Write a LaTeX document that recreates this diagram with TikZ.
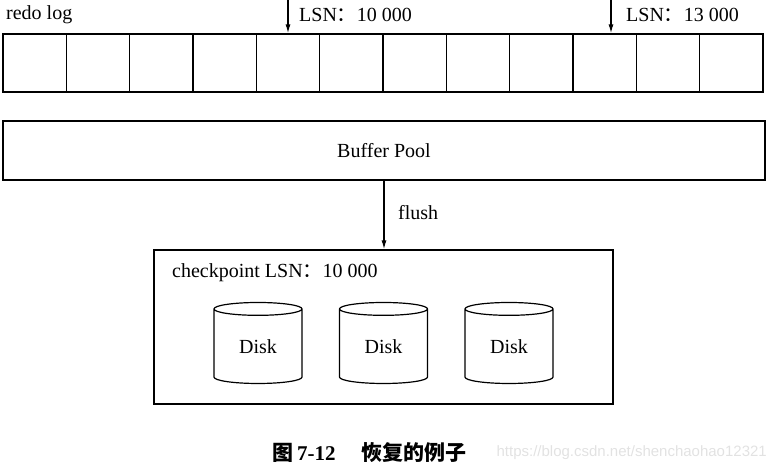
\documentclass[tikz,border=0pt]{standalone}
\usepackage{fontspec}
\setmainfont{Liberation Serif}
\newfontfamily\cjk{Noto Sans CJK SC}
\newfontfamily\wmfont{Liberation Sans}
\usepackage{xcolor}
\usepackage{tikz}
\usetikzlibrary{positioning, arrows.meta, shapes.geometric}
\definecolor{watermark}{HTML}{E2E2E2}

\tikzset{
    logcell/.style={draw, line width=1.3pt, minimum width=63.33pt, minimum height=58pt, inner sep=0pt},
    bigbox/.style={draw, line width=1.3pt, inner sep=0pt},
    diskcyl/.style={draw, line width=1.2pt, cylinder, shape border rotate=90, aspect=0.34,
          minimum width=88pt, minimum height=81pt, inner sep=0pt},
    pointer/.style={-{Latex[length=9pt,width=5pt]}, line width=1.3pt},
    lbl/.style={font=\fontsize{20}{24}\selectfont, inner sep=0pt}
}

\begin{document}
\begin{tikzpicture}[x=1pt, y=-1pt]
    \useasboundingbox (0,0) rectangle (769,474);
    % redo log
    \node[lbl, anchor=west] (redolbl) at (6,15) {redo log};
    \foreach \i in {1,...,12}
      \node[logcell] (cell\i) at ({3+63.33*(\i-0.5)},63) {};
    \coordinate (topA) at (288,0);
    \coordinate (topB) at (611,0);
    \draw[pointer] (topA) -- (topA |- cell5.north);
    \draw[pointer] (topB) -- (topB |- cell10.north);
    \node[lbl, anchor=west] (lsnA) at (299,15) {LSN{\cjk ：}10 000};
    \node[lbl, anchor=west] (lsnB) at (626,15) {LSN{\cjk ：}13 000};
    % buffer pool and flush
    \node[bigbox, minimum width=762pt, minimum height=59pt, lbl] (pool) at (384,150.5) {Buffer Pool};
    \node[bigbox, minimum width=459pt, minimum height=154pt] (ckpt) at (383.5,327) {};
    \draw[pointer] (pool.south) -- (pool.south |- ckpt.north);
    \node[lbl, anchor=west] (flushlbl) at (398,213) {flush};
    \node[lbl, anchor=west] (ckptlbl) at (172,273) {checkpoint LSN{\cjk ：}10 000};
    \foreach \x [count=\k] in {258,383.5,509}
      \node[diskcyl, lbl] (disk\k) at (\x,346.5) {Disk};
    % caption
    \node[anchor=east, inner sep=0pt, text=watermark, font=\wmfont\fontsize{15}{18}\selectfont]
      (wmark) at (767,453) {https://blog.csdn.net/shenchaohao12321};
    \node[inner sep=0pt, anchor=west, font=\fontsize{21}{24}\selectfont] (caption) at (272,453)
      {{\cjk\bfseries 图}\hspace{4pt}\textbf{7-12}\hspace{26pt}{\cjk\bfseries 恢复的例子}};
\end{tikzpicture}
\end{document}
